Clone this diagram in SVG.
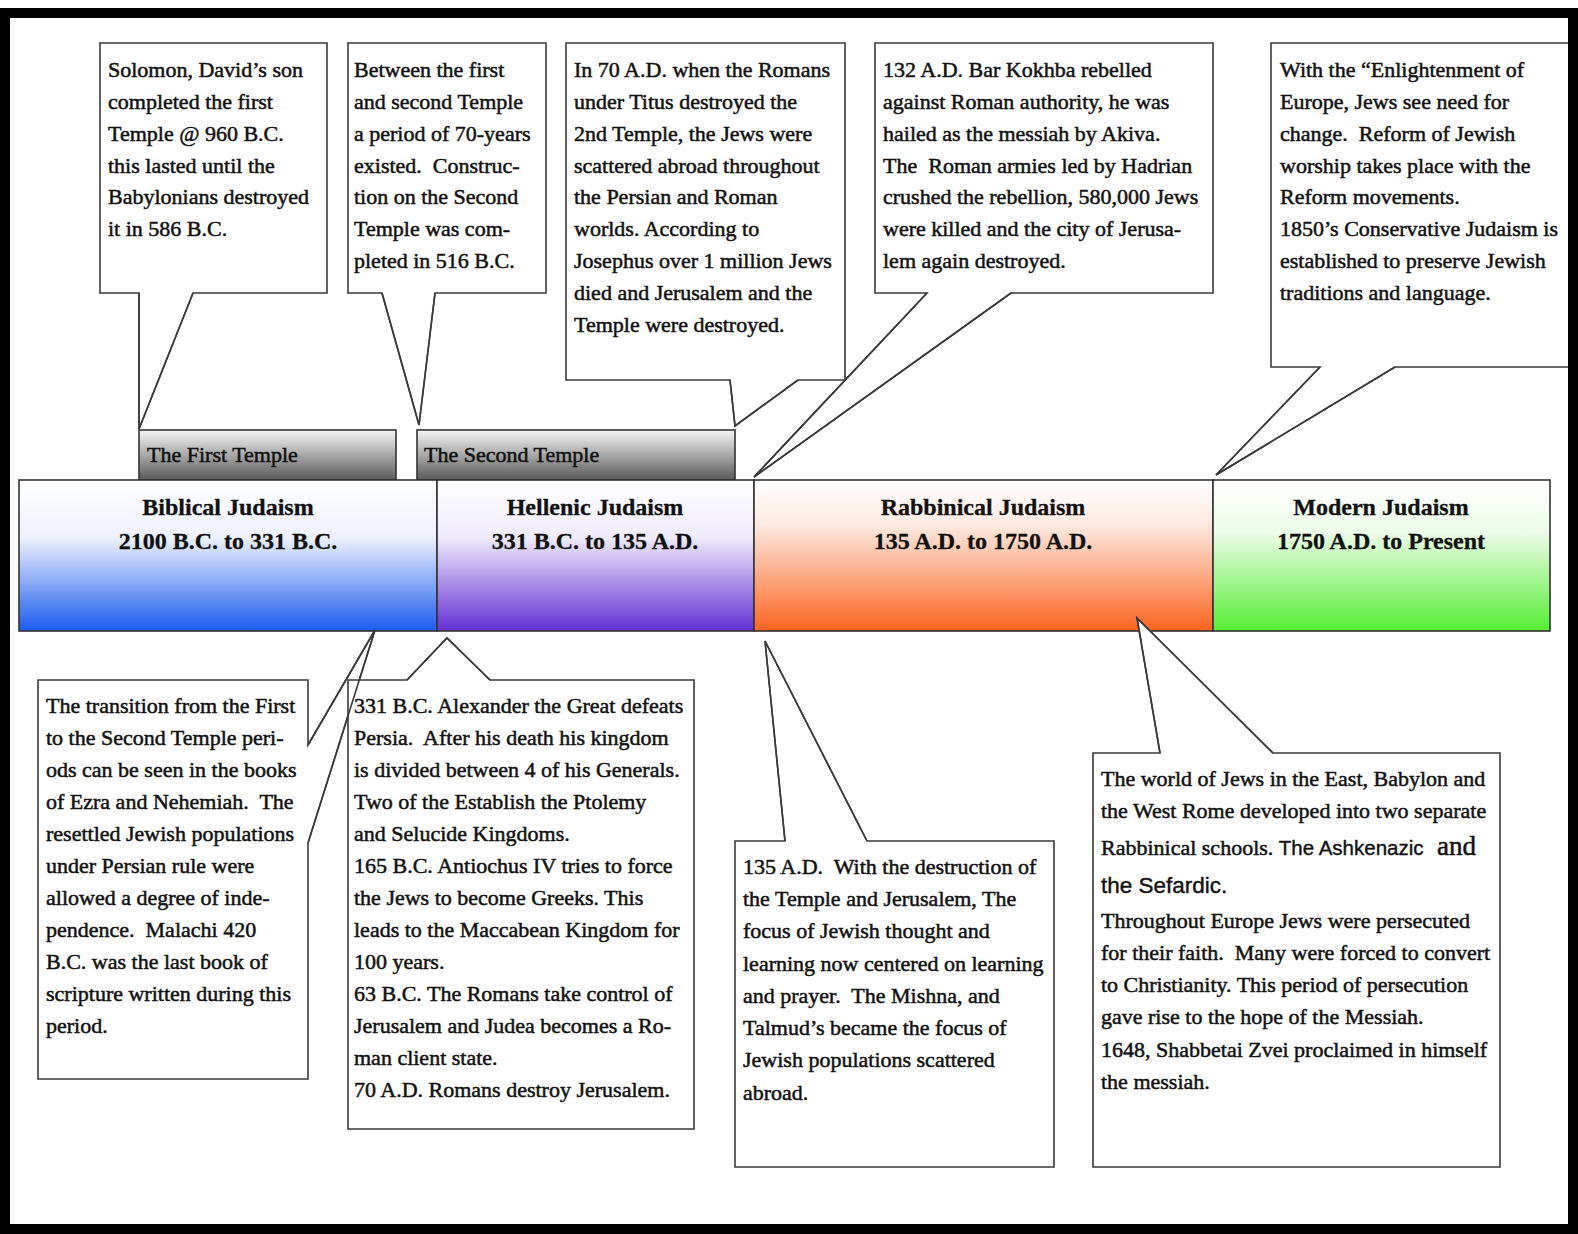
<svg xmlns="http://www.w3.org/2000/svg" width="1578" height="1234" viewBox="0 0 1578 1234">
<style>
.box{fill:#fff;stroke:#3a3a3a;stroke-width:1.6}
.tail{fill:none;stroke:#3a3a3a;stroke-width:1.6}
.t{font-family:"Liberation Serif","Times New Roman",serif;font-size:22px;fill:#111;stroke:#111;stroke-width:0.5;white-space:pre}
.h{font-family:"Liberation Serif","Times New Roman",serif;font-size:24px;font-weight:bold;fill:#111;stroke:#111;stroke-width:0.3;text-anchor:middle}
.s{font-family:"Liberation Sans",Arial,sans-serif;fill:#111;stroke:#111;stroke-width:0.4}
.bar{stroke:#333;stroke-width:1.6}
</style>
<defs>
<linearGradient id="gBib" x1="0" y1="0" x2="0" y2="1"><stop offset="0" stop-color="#ffffff"/><stop offset="0.38" stop-color="#eef1fc"/><stop offset="1" stop-color="#1b5cf0"/></linearGradient>
<linearGradient id="gHel" x1="0" y1="0" x2="0" y2="1"><stop offset="0" stop-color="#ffffff"/><stop offset="0.38" stop-color="#efebfb"/><stop offset="1" stop-color="#6430d4"/></linearGradient>
<linearGradient id="gRab" x1="0" y1="0" x2="0" y2="1"><stop offset="0" stop-color="#ffffff"/><stop offset="0.3" stop-color="#fde9e0"/><stop offset="1" stop-color="#fb6420"/></linearGradient>
<linearGradient id="gMod" x1="0" y1="0" x2="0" y2="1"><stop offset="0" stop-color="#ffffff"/><stop offset="0.35" stop-color="#ecfce8"/><stop offset="1" stop-color="#55ee33"/></linearGradient>
<linearGradient id="gTem" x1="0" y1="0" x2="0" y2="1"><stop offset="0" stop-color="#f6f6f6"/><stop offset="1" stop-color="#5a5a5a"/></linearGradient>
</defs>
<rect x="0" y="0" width="1578" height="1234" fill="#fff"/>

<g id="temple1"><rect class="bar" x="139" y="430" width="257" height="50" fill="url(#gTem)"/><text class="t" x="147" y="462">The First Temple</text></g>
<g id="temple2"><rect class="bar" x="417" y="430" width="318" height="50" fill="url(#gTem)"/><text class="t" x="424" y="462">The Second Temple</text></g>

<g id="biblical"><rect class="bar" x="19" y="480" width="418" height="151" fill="url(#gBib)"/><text class="h" x="228" y="515">Biblical Judaism</text><text class="h" x="228" y="549">2100 B.C. to 331 B.C.</text></g>
<g id="hellenic"><rect class="bar" x="437" y="480" width="317" height="151" fill="url(#gHel)"/><text class="h" x="595" y="515">Hellenic Judaism</text><text class="h" x="595" y="549">331 B.C. to 135 A.D.</text></g>
<g id="rabbinical"><rect class="bar" x="754" y="480" width="459" height="151" fill="url(#gRab)"/><text class="h" x="983" y="515">Rabbinical Judaism</text><text class="h" x="983" y="549">135 A.D. to 1750 A.D.</text></g>
<g id="modern"><rect class="bar" x="1213" y="480" width="337" height="151" fill="url(#gMod)"/><text class="h" x="1381" y="515">Modern Judaism</text><text class="h" x="1381" y="549">1750 A.D. to Present</text></g>

<g id="note-solomon"><path class="box" d="M100,43 H327 V293 H193 L139,429 L139,293 H100 Z"/>
<text class="t"><tspan x="108" y="77">Solomon, David’s son</tspan><tspan x="108" y="109">completed the first</tspan><tspan x="108" y="141">Temple @ 960 B.C.</tspan><tspan x="108" y="173">this lasted until the</tspan><tspan x="108" y="204">Babylonians destroyed</tspan><tspan x="108" y="236">it in 586 B.C.</tspan></text></g>

<g id="note-between"><path class="box" d="M348,43 H546 V293 H435 L419,425 L382,293 H348 Z"/>
<text class="t"><tspan x="354" y="77">Between the first</tspan><tspan x="354" y="109">and second Temple</tspan><tspan x="354" y="141">a period of 70-years</tspan><tspan x="354" y="173">existed.  Construc-</tspan><tspan x="354" y="204">tion on the Second</tspan><tspan x="354" y="236">Temple was com-</tspan><tspan x="354" y="268">pleted in 516 B.C.</tspan></text></g>

<g id="note-70ad"><path class="box" d="M566,43 H845 V380 H798 L735,426 L730,380 H566 Z"/>
<text class="t"><tspan x="574" y="77">In 70 A.D. when the Romans</tspan><tspan x="574" y="109">under Titus destroyed the</tspan><tspan x="574" y="141">2nd Temple, the Jews were</tspan><tspan x="574" y="173">scattered abroad throughout</tspan><tspan x="574" y="204">the Persian and Roman</tspan><tspan x="574" y="236">worlds. According to</tspan><tspan x="574" y="268">Josephus over 1 million Jews</tspan><tspan x="574" y="300">died and Jerusalem and the</tspan><tspan x="574" y="332">Temple were destroyed.</tspan></text></g>

<g id="note-132ad"><path class="box" d="M875,43 H1213 V293 H1011 L754,477 L927,293 H875 Z"/>
<text class="t"><tspan x="883" y="77">132 A.D. Bar Kokhba rebelled</tspan><tspan x="883" y="109">against Roman authority, he was</tspan><tspan x="883" y="141">hailed as the messiah by Akiva.</tspan><tspan x="883" y="173">The  Roman armies led by Hadrian</tspan><tspan x="883" y="204">crushed the rebellion, 580,000 Jews</tspan><tspan x="883" y="236">were killed and the city of Jerusa-</tspan><tspan x="883" y="268">lem again destroyed.</tspan></text></g>

<g id="note-enlightenment"><path class="box" d="M1271,43 H1576 V367 H1395 L1216,475 L1320,367 H1271 Z"/>
<text class="t"><tspan x="1280" y="77">With the “Enlightenment of</tspan><tspan x="1280" y="109">Europe, Jews see need for</tspan><tspan x="1280" y="141">change.  Reform of Jewish</tspan><tspan x="1280" y="173">worship takes place with the</tspan><tspan x="1280" y="204">Reform movements.</tspan><tspan x="1280" y="236">1850’s Conservative Judaism is</tspan><tspan x="1280" y="268">established to preserve Jewish</tspan><tspan x="1280" y="300">traditions and language.</tspan></text></g>

<g id="note-transition"><path class="box" d="M38,680 H308 V745 L375,630 L308,843 V1079 H38 Z"/>
<text class="t"><tspan x="46" y="713">The transition from the First</tspan><tspan x="46" y="745">to the Second Temple peri-</tspan><tspan x="46" y="777">ods can be seen in the books</tspan><tspan x="46" y="809">of Ezra and Nehemiah.  The</tspan><tspan x="46" y="841">resettled Jewish populations</tspan><tspan x="46" y="873">under Persian rule were</tspan><tspan x="46" y="905">allowed a degree of inde-</tspan><tspan x="46" y="937">pendence.  Malachi 420</tspan><tspan x="46" y="969">B.C. was the last book of</tspan><tspan x="46" y="1001">scripture written during this</tspan><tspan x="46" y="1033">period.</tspan></text></g>

<g id="note-331bc"><path class="box" d="M348,680 H407 L447,638 L490,680 H694 V1129 H348 Z"/>
<text class="t"><tspan x="354" y="713">331 B.C. Alexander the Great defeats</tspan><tspan x="354" y="745">Persia.  After his death his kingdom</tspan><tspan x="354" y="777">is divided between 4 of his Generals.</tspan><tspan x="354" y="809">Two of the Establish the Ptolemy</tspan><tspan x="354" y="841">and Selucide Kingdoms.</tspan><tspan x="354" y="873">165 B.C. Antiochus IV tries to force</tspan><tspan x="354" y="905">the Jews to become Greeks. This</tspan><tspan x="354" y="937">leads to the Maccabean Kingdom for</tspan><tspan x="354" y="969">100 years.</tspan><tspan x="354" y="1001">63 B.C. The Romans take control of</tspan><tspan x="354" y="1033">Jerusalem and Judea becomes a Ro-</tspan><tspan x="354" y="1065">man client state.</tspan><tspan x="354" y="1097">70 A.D. Romans destroy Jerusalem.</tspan></text></g>

<g id="note-135ad"><path class="box" d="M735,841 H785 L765,641 L867,841 H1054 V1167 H735 Z"/>
<text class="t"><tspan x="743" y="874">135 A.D.  With the destruction of</tspan><tspan x="743" y="906">the Temple and Jerusalem, The</tspan><tspan x="743" y="938">focus of Jewish thought and</tspan><tspan x="743" y="971">learning now centered on learning</tspan><tspan x="743" y="1003">and prayer.  The Mishna, and</tspan><tspan x="743" y="1035">Talmud’s became the focus of</tspan><tspan x="743" y="1067">Jewish populations scattered</tspan><tspan x="743" y="1100">abroad.</tspan></text></g>

<g id="note-world"><path class="box" d="M1093,753 H1160 L1137,618 L1273,753 H1500 V1167 H1093 Z"/>
<text class="t"><tspan x="1101" y="786">The world of Jews in the East, Babylon and</tspan><tspan x="1101" y="818">the West Rome developed into two separate</tspan><tspan x="1101" y="855">Rabbinical schools. </tspan><tspan class="s" font-size="20.5">The Ashkenazic</tspan><tspan font-size="27">  and</tspan><tspan class="s" x="1101" y="893" font-size="22.5">the Sefardic.</tspan><tspan x="1101" y="928">Throughout Europe Jews were persecuted</tspan><tspan x="1101" y="960">for their faith.  Many were forced to convert</tspan><tspan x="1101" y="992">to Christianity. This period of persecution</tspan><tspan x="1101" y="1024">gave rise to the hope of the Messiah.</tspan><tspan x="1101" y="1057">1648, Shabbetai Zvei proclaimed in himself</tspan><tspan x="1101" y="1089">the messiah.</tspan></text></g>

<g id="connectors">
<polyline class="tail" points="193,293 139,429 139,293"/>
<polyline class="tail" points="435,293 419,425 382,293"/>
<polyline class="tail" points="798,380 735,426 730,380"/>
<polyline class="tail" points="1011,293 754,477 927,293"/>
<polyline class="tail" points="1395,367 1216,475 1320,367"/>
<polyline class="tail" points="308,745 375,630 308,843"/>
<polyline class="tail" points="407,680 447,638 490,680"/>
<polyline class="tail" points="785,841 765,641 867,841"/>
<polyline class="tail" points="1160,753 1137,618 1273,753"/>
</g>

<rect x="5" y="13" width="1568" height="1216" fill="none" stroke="#000" stroke-width="10"/>
</svg>
